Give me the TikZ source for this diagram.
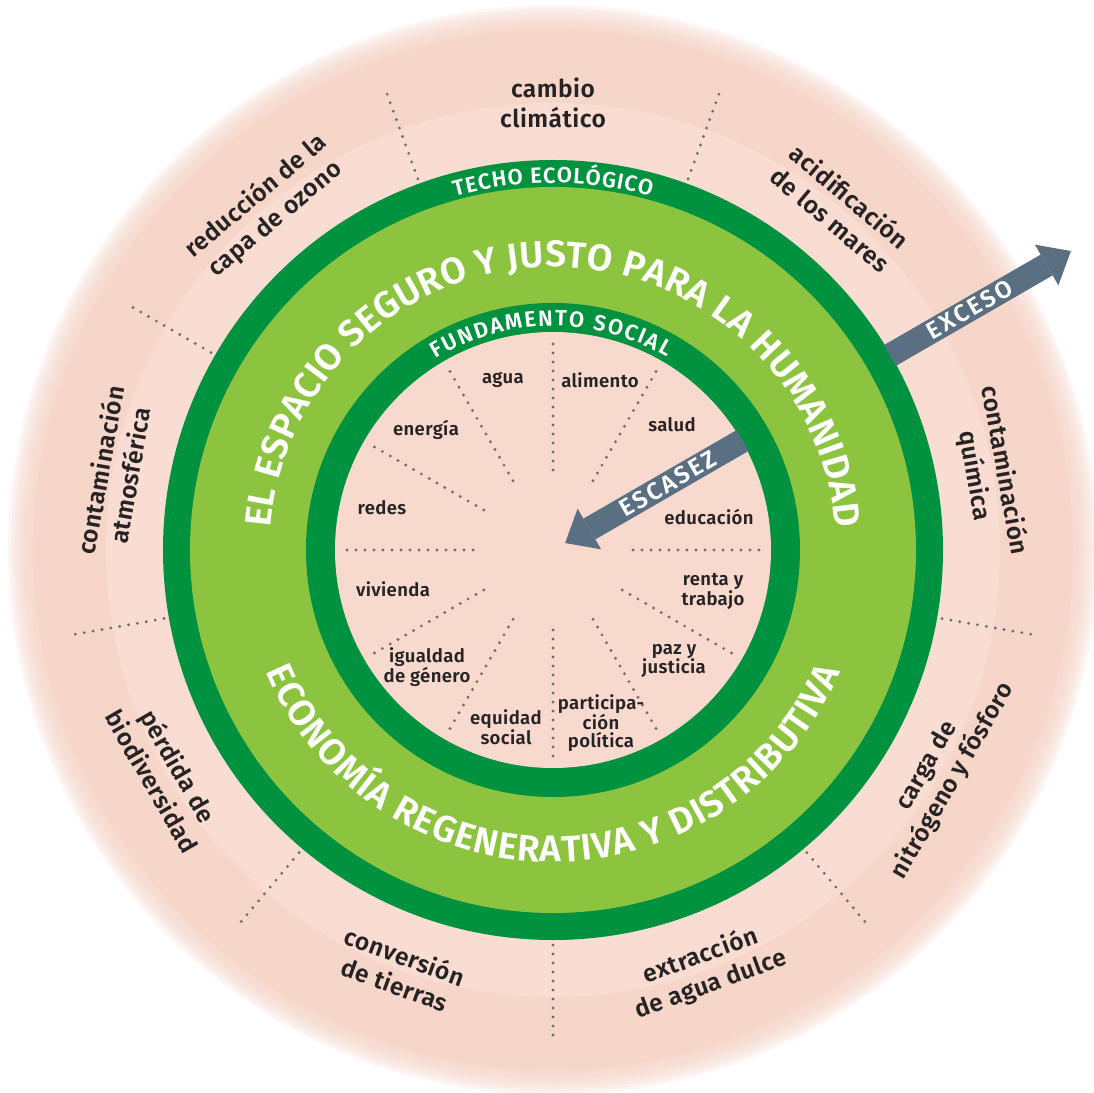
\documentclass[tikz,border=0pt]{standalone}
\usepackage{fontspec}
\setmainfont{Fira Sans SemiBold}[LetterSpace=2]
\newfontfamily\capsfont{Fira Sans SemiBold}
\usetikzlibrary{decorations.text,arrows.meta}

\definecolor{pinkout}{HTML}{F7D6CA}
\definecolor{pinkband}{HTML}{F9DDD2}
\definecolor{pinkin}{HTML}{F8D9CE}
\definecolor{ringdark}{HTML}{00923F}
\definecolor{ringlight}{HTML}{8CC43F}
\definecolor{arrowgray}{HTML}{5B6F82}
\definecolor{dotgray}{HTML}{6E6E6E}
\definecolor{ink}{HTML}{262324}

\newcommand\bigring{\capsfont\fontsize{37}{37}\selectfont\color{white}}
\newcommand\smallring{\capsfont\fontsize{22}{22}\selectfont\color{white}}

\begin{document}
\begin{tikzpicture}[x=1pt,y=1pt,
    outlbl/.style={text=ink,align=center,font=\fontsize{24.5}{30}\selectfont},
    inlbl/.style={text=ink,align=center,font=\fontsize{18.5}{17.5}\selectfont},
    dots/.style={dotgray,line width=3.2pt,line cap=round,dash pattern=on 0pt off 9pt},
    fatarrow/.style={draw=arrowgray,line width=24pt,-{Triangle[width=47pt,length=28pt,line width=0pt]}},
    arrowlbl/.style={sloped,text=white,font=\fontsize{24}{24}\selectfont\addfontfeatures{LetterSpace=10}}]

    \useasboundingbox[fill=white] (-553,-542) rectangle (541,550);

    % outer field
    \foreach \r in {545,542,...,521}
        \fill[pinkout,opacity=0.2] (0,0) circle[radius=\r];
    \fill[pinkout] (0,0) circle[radius=520];
    \fill[pinkband] (0,0) circle[radius=447];
    \foreach \a in {70,110,...,350}
        \draw[dots] (\a:386) -- (\a:487);

    % rings
    \fill[ringdark] (0,0) circle[radius=390];
    \fill[ringlight] (0,0) circle[radius=363];
    \fill[ringdark] (0,0) circle[radius=247];
    \fill[pinkin] (0,0) circle[radius=218];
    \foreach \a in {0,60,90,...,330}
        \draw[dots] (\a:80) -- (\a:213);

    % ring texts
    \path[decorate,decoration={text along path,text align={fit to path},
        text={|\bigring|EL ESPACIO SEGURO Y JUSTO PARA LA HUMANIDAD}}]
        (175.5:283) arc[start angle=175.5,end angle=4.5,radius=283];
    \path[decorate,decoration={text along path,text align={fit to path},
        text={|\bigring|ECONOMÍA REGENERATIVA Y DISTRIBUTIVA}}]
        (203:312) arc[start angle=203,end angle=337,radius=312];
    \path[decorate,decoration={text along path,text align={fit to path},
        text={|\smallring|TECHO ECOLÓGICO}}]
        (105.5:367) arc[start angle=105.5,end angle=74.5,radius=367];
    \path[decorate,decoration={text along path,text align={fit to path},
        text={|\smallring|FUNDAMENTO SOCIAL}}]
        (121.5:224) arc[start angle=121.5,end angle=59.5,radius=224];

    % ecological ceiling
    \node[outlbl] (clima) at (90:447) {cambio\\climático};
    \node[outlbl,rotate=40] (ozono) at (130:447) {reducción de la\\capa de ozono};
    \node[outlbl,rotate=80] (aire) at (170:445) {contaminación\\atmosférica};
    \node[outlbl,rotate=-60] (biodiv) at (210:447) {pérdida de\\biodiversidad};
    \node[outlbl,rotate=-20] (tierras) at (250:447) {conversión\\de tierras};
    \node[outlbl,rotate=20] (aguadulce) at (290:447) {extracción\\de agua dulce};
    \node[outlbl,rotate=60] (nitro) at (330:447) {carga de\\nitrógeno y fósforo};
    \node[outlbl,rotate=-80] (quimica) at (10:443) {contaminación\\química};
    \node[outlbl,rotate=-40] (mares) at (50:447) {acidificación\\de los mares};

    % social foundation
    \node[inlbl] (agua) at (-50,170) {agua};
    \node[inlbl] (alimento) at (47,170) {alimento};
    \node[inlbl] (salud) at (119,125) {salud};
    \node[inlbl] (educ) at (156,33) {educación};
    \node[inlbl] (renta) at (160,-41) {renta y\\trabajo};
    \node[inlbl] (paz) at (121,-111) {paz y\\justicia};
    \node[inlbl] (partic) at (48,-173) {participa-\\ción\\política};
    \node[inlbl] (equidad) at (-47,-177) {equidad\\social};
    \node[inlbl] (genero) at (-126,-117) {igualdad\\de género};
    \node[inlbl] (vivienda) at (-160,-39) {vivienda};
    \node[inlbl] (redes) at (-171,42) {redes};
    \node[inlbl] (energia) at (-127,120) {energía};

    % arrows
    \coordinate (exA) at (30:389);
    \coordinate (exB) at (30:598);
    \coordinate (scA) at (30:219);
    \coordinate (scB) at (30:14);
    \draw[fatarrow] (exA) -- (exB) node[arrowlbl,pos=0.44] {EXCESO};
    \draw[fatarrow] (scA) -- (scB) node[arrowlbl,pos=0.42] {ESCASEZ};
\end{tikzpicture}
\end{document}
